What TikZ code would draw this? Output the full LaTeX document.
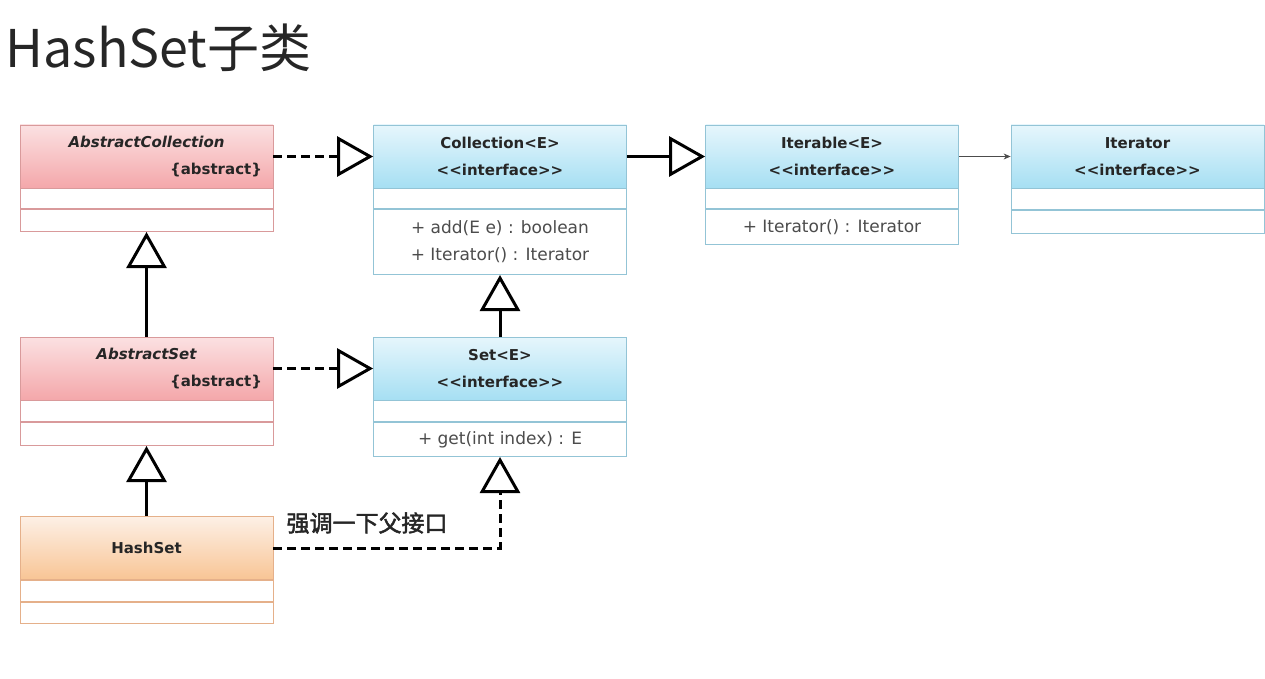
\documentclass[tikz,border=0pt]{standalone}
\usepackage{fontspec}
\setmainfont{DejaVu Sans}
\newfontfamily\cjk[AutoFakeBold=2]{Noto Sans CJK SC}
\usetikzlibrary{arrows.meta}

\definecolor{pinktop}{HTML}{FBE1E2}
\definecolor{pinkbot}{HTML}{F4A7AA}
\definecolor{pinkline}{HTML}{D99A9B}
\definecolor{cyantop}{HTML}{E6F6FC}
\definecolor{cyanbot}{HTML}{A6DFF3}
\definecolor{cyanline}{HTML}{93C4D6}
\definecolor{orgtop}{HTML}{FDF0E6}
\definecolor{orgbot}{HTML}{F8C595}
\definecolor{orgline}{HTML}{E5B08A}
\definecolor{txt}{HTML}{262626}

\tikzset{
    hdr/.style={minimum width=253pt, minimum height=63pt, inner sep=0pt, line width=0.8pt,
        text=txt, font=\fontsize{15}{27}\selectfont\bfseries, align=center},
    pinkhdr/.style={hdr, draw=pinkline, top color=pinktop, bottom color=pinkbot, align=right},
    cyanhdr/.style={hdr, draw=cyanline, top color=cyantop, bottom color=cyanbot},
    orghdr/.style={hdr, draw=orgline, top color=orgtop, bottom color=orgbot},
    comp/.style={anchor=north, minimum width=253pt, inner sep=0pt, line width=0.8pt,
        fill=white, text=black!70, font=\fontsize{17}{27}\selectfont, align=center},
    realize/.style={line width=3pt, dash pattern=on 9pt off 5pt,
        -{Triangle[open, length=36pt, width=40pt, line width=3pt, sep=0pt]}},
    inherit/.style={line width=3pt,
        -{Triangle[open, length=36pt, width=40pt, line width=3pt]}},
    assoc/.style={line width=0.8pt, draw=black!70, -{Stealth[length=7pt, width=6pt]}},
}
\newcommand{\stereo}{<{}<interface>{}>}

\begin{document}
\begin{tikzpicture}[x=1pt, y=-1pt]
    \useasboundingbox (0,0) rectangle (1265,679);

    % Title
    \node[anchor=base west, font=\cjk\fontsize{52}{52}\selectfont, text=black!85] (title) at (2,68) {HashSet子类};

    % AbstractCollection
    \node[pinkhdr] (acoll) at (146.5,156.5) {\makebox[231pt]{\itshape AbstractCollection}\\\{abstract\}};
    \node[comp, draw=pinkline, minimum height=20pt] (acoll-a) at (acoll.south) {};
    \node[comp, draw=pinkline, minimum height=22pt] (acoll-m) at (acoll-a.south) {};

    % Collection<E>
    \node[cyanhdr] (coll) at (500,156.5) {Collection<E>\\\stereo};
    \node[comp, draw=cyanline, minimum height=20pt] (coll-a) at (coll.south) {};
    \node[comp, draw=cyanline, minimum height=65pt] (coll-m) at (coll-a.south) {+ add(E e) : boolean\\+ Iterator() : Iterator};

    % Iterable<E>
    \node[cyanhdr] (iter) at (832,156.5) {Iterable<E>\\\stereo};
    \node[comp, draw=cyanline, minimum height=20pt] (iter-a) at (iter.south) {};
    \node[comp, draw=cyanline, minimum height=35pt] (iter-m) at (iter-a.south) {+ Iterator() : Iterator};

    % Iterator
    \node[cyanhdr] (itor) at (1137.5,156.5) {Iterator\\\stereo};
    \node[comp, draw=cyanline, minimum height=21pt] (itor-a) at (itor.south) {};
    \node[comp, draw=cyanline, minimum height=23pt] (itor-m) at (itor-a.south) {};

    % AbstractSet
    \node[pinkhdr] (aset) at (146.5,368.5) {\makebox[231pt]{\itshape AbstractSet}\\\{abstract\}};
    \node[comp, draw=pinkline, minimum height=21pt] (aset-a) at (aset.south) {};
    \node[comp, draw=pinkline, minimum height=23pt] (aset-m) at (aset-a.south) {};

    % Set<E>
    \node[cyanhdr] (set) at (500,368.5) {Set<E>\\\stereo};
    \node[comp, draw=cyanline, minimum height=21pt] (set-a) at (set.south) {};
    \node[comp, draw=cyanline, minimum height=34pt] (set-m) at (set-a.south) {+ get(int index) : E};

    % HashSet
    \node[orghdr] (hs) at (146.5,548) {HashSet};
    \node[comp, draw=orgline, minimum height=21pt] (hs-a) at (hs.south) {};
    \node[comp, draw=orgline, minimum height=21pt] (hs-m) at (hs-a.south) {};

    % Connectors
    \draw[realize] (acoll.east) -- (coll.west);
    \draw[inherit] (coll.east) -- (iter.west);
    \draw[assoc] (iter.east) -- (itor.west);
    \draw[inherit] (aset.north) -- (acoll-m.south);
    \draw[realize] (aset.east) -- (set.west);
    \draw[inherit] (set.north) -- (coll-m.south);
    \draw[inherit] (hs.north) -- (aset-m.south);
    \draw[realize] (hs.east) -| (set-m.south);

    % Note on the HashSet realization
    \node[anchor=west, font=\cjk\bfseries\fontsize{23}{23}\selectfont, text=txt] (note) at (283,523) {强调一下父接口};

\end{tikzpicture}
\end{document}
